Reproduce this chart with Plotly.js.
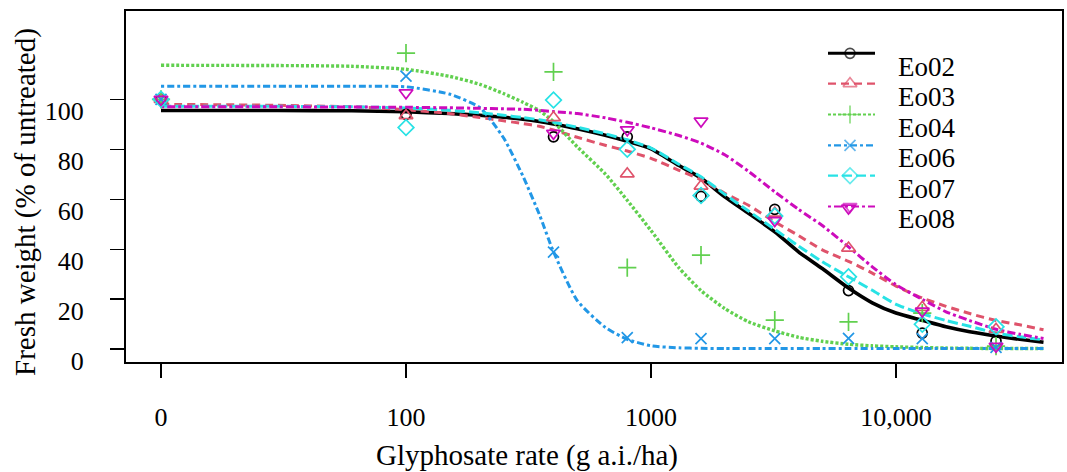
<!DOCTYPE html>
<html>
<head>
<meta charset="utf-8">
<script src="https://cdn.plot.ly/plotly-3.0.1.min.js"></script>
<style>html,body{margin:0;padding:0;background:#fff;}#chart{width:1067px;height:472px;}</style>
</head>
<body>
<div id="chart"></div>
<script>
// ---- data ----
const seriesNames = ["Eo02", "Eo03", "Eo04", "Eo06", "Eo07", "Eo08"];
const doses = [0, 100, 400, 800, 1600, 3200, 6400, 12800, 25600];
const obsEo02 = [100, 94.0, 85.0, 85.0, 61.2, 56.0, 23.5, 6.5, 3.3];
const obsEo03 = [100, 93.5, 92.7, 70.2, 65.3, 54.5, 40.5, 16.8, 8.0];
const obsEo04 = [100, 118.5, 111.0, 32.7, 37.7, 11.7, 11.0, 14.5, 1.3];
const obsEo06 = [100, 109.3, 38.9, 4.7, 4.3, 4.3, 4.4, 4.3, 0.8];
const obsEo07 = [100, 88.7, 99.7, 80.0, 61.5, 53.3, 29.0, 10.0, 9.0];
const obsEo08 = [100, 102.6, 86.4, 87.8, 91.3, 51.5, 56.5, 15.3, 1.2];

const curveDoses = [0, 30, 60, 100, 150, 200, 250, 300, 350, 400, 500, 650, 800, 1000, 1300, 1600,
  2000, 2500, 3200, 4000, 5000, 6400, 8000, 10000, 12800, 16000, 20000, 25600, 32000, 40000];
const fitEo02 = [95.5, 95.5, 95.4, 95.0, 94.3, 93.6, 92.8, 92.0, 91.1, 90.1, 88.2, 85.6, 83.2, 80.2, 73.5, 68.5,
  61.0, 54.4, 47.0, 39.0, 32.3, 24.5, 18.6, 14.5, 11.6, 9.0, 7.0, 5.3, 4.0, 2.8];
const fitEo03 = [98.0, 97.6, 97.0, 95.8, 94.3, 92.7, 91.4, 90.3, 89.2, 87.7, 84.8, 81.6, 79.3, 76.4, 71.6, 67.8,
  62.4, 57.6, 51.0, 45.5, 39.8, 35.2, 30.5, 25.3, 20.5, 17.2, 14.3, 11.5, 9.8, 7.8];
const fitEo04 = [113.6, 113.5, 113.2, 112.0, 109.2, 106.0, 102.3, 98.8, 95.5, 91.0, 81.0, 70.2, 59.6, 47.5, 32.6, 23.5,
  16.3, 11.0, 7.4, 4.8, 3.2, 2.0, 1.4, 1.0, 0.7, 0.5, 0.4, 0.3, 0.3, 0.3];
const fitEo06 = [105.2, 105.2, 105.2, 105.0, 102.1, 96.7, 84.6, 69.3, 54.0, 39.0, 19.5, 8.8, 4.0, 1.4, 0.6, 0.4,
  0.3, 0.3, 0.3, 0.3, 0.3, 0.3, 0.3, 0.3, 0.3, 0.3, 0.3, 0.3, 0.3, 0.3];
const fitEo07 = [97.2, 97.2, 97.0, 96.5, 95.6, 94.6, 93.6, 92.7, 91.8, 90.8, 88.8, 86.2, 83.8, 80.5, 74.0, 69.0,
  62.0, 55.3, 48.0, 41.3, 35.0, 29.0, 23.6, 18.0, 14.2, 11.5, 9.2, 6.5, 5.0, 3.8];
const fitEo08 = [97.0, 97.0, 96.9, 96.8, 96.6, 96.4, 96.2, 96.0, 95.6, 95.1, 94.3, 92.6, 90.8, 88.6, 85.5, 82.5,
  77.8, 71.2, 63.0, 56.0, 49.5, 41.0, 33.0, 25.8, 20.0, 15.0, 11.5, 8.0, 6.0, 4.3];

const xTickVals = [0, 100, 1000, 10000];
const xTickText = ["0", "100", "1000", "10,000"];
const yTickVals = [0, 20, 40, 60, 80, 100];

// ---- styles ----
const zeroPos = 10; // broken-axis position of dose 0
const toX = d => d === 0 ? zeroPos : d;
const FONT = "Liberation Serif, Times New Roman, serif";
const colors = ["#000000", "#DF536B", "#61D04F", "#2297E6", "#28E2E5", "#CD0BBC"];
const symbols = ["circle-open", "triangle-up-open", "cross-thin-open", "x-thin-open", "diamond-open", "triangle-down-open"];
const msizes = [10, 12, 13, 11, 12, 12];
const dashes = ["solid", "8px,5px", "3px,2px", "3px,3px,7px,3px", "10px,4px", "3px,3px,8px,3px"];
const lwidths = [3.6, 3, 3.4, 3, 3, 3];
const obs = [obsEo02, obsEo03, obsEo04, obsEo06, obsEo07, obsEo08];
const fits = [fitEo02, fitEo03, fitEo04, fitEo06, fitEo07, fitEo08];

const traces = [];
for (let i = 0; i < seriesNames.length; i++) {
  traces.push({
    type: "scatter", mode: "lines", name: seriesNames[i], showlegend: false,
    x: curveDoses.map(toX), y: fits[i],
    line: {color: colors[i], width: lwidths[i], dash: dashes[i], shape: "spline", smoothing: 0.6},
    hoverinfo: "skip"
  });
}
for (let i = 0; i < seriesNames.length; i++) {
  traces.push({
    type: "scatter", mode: "markers", name: seriesNames[i], showlegend: false,
    x: doses.map(toX), y: obs[i], cliponaxis: false,
    marker: {symbol: symbols[i], size: msizes[i], color: colors[i], line: {color: colors[i], width: 1.7}}
  });
}

// ---- custom legend (on an overlay axis in plot fractions) ----
const plotL = 126, plotR = 1062, plotT = 11, plotB = 362;
const fx = px => (px - plotL) / (plotR - plotL);
const fy = py => (plotB - py) / (plotB - plotT);
const legSymY = [53.3, 83.6, 114.5, 145.3, 175.7, 206.5];
const legTextY = [67, 97, 127.5, 158, 188.5, 218.5];
const annotations = [];
for (let i = 0; i < seriesNames.length; i++) {
  traces.push({
    type: "scatter", mode: "lines+markers", xaxis: "x2", yaxis: "y2", showlegend: false, hoverinfo: "skip",
    x: [fx(828), fx(850), fx(875)], y: [fy(legSymY[i]), fy(legSymY[i]), fy(legSymY[i])],
    line: {color: colors[i], width: i === 0 ? 3 : 2.2, dash: dashes[i]},
    marker: {symbol: symbols[i], size: [0, msizes[i], 0], color: colors[i], line: {color: colors[i], width: 1.7}}
  });
  annotations.push({
    xref: "paper", yref: "paper", x: fx(896), y: fy(legTextY[i]), xanchor: "left", yanchor: "middle",
    text: seriesNames[i], showarrow: false, font: {family: FONT, size: 27, color: "#000"}
  });
}
annotations.push({
  xref: "paper", yref: "paper", x: fx(527), y: fy(455), xanchor: "center", yanchor: "middle",
  text: "Glyphosate rate (g a.i./ha)", showarrow: false, font: {family: FONT, size: 29, color: "#000"}
});
annotations.push({
  xref: "paper", yref: "paper", x: fx(25), y: fy(202), xanchor: "center", yanchor: "middle", textangle: -90,
  text: "Fresh weight (% of untreated)", showarrow: false, font: {family: FONT, size: 29, color: "#000"}
});

const layout = {
  width: 1067, height: 472,
  margin: {l: plotL, r: 1067 - plotR, t: plotT, b: 472 - plotB},
  paper_bgcolor: "#fff", plot_bgcolor: "#fff",
  font: {family: FONT, color: "#000"},
  showlegend: false,
  xaxis: {
    type: "log", range: [1 - 35 / 245, 1 + 901 / 245],
    tickvals: xTickVals.map(toX), ticktext: xTickText,
    ticks: "outside", ticklen: 14, tickwidth: 1.6, tickcolor: "#000",
    showline: true, linecolor: "#000", linewidth: 2, mirror: true,
    showgrid: false, zeroline: false,
    tickfont: {family: FONT, size: 26, color: "#000"}, ticklabelstandoff: 17
  },
  yaxis: {
    range: [-5.08, 135.32], tickvals: yTickVals,
    ticks: "outside", ticklen: 14, tickwidth: 1.6, tickcolor: "#000",
    showline: true, linecolor: "#000", linewidth: 2, mirror: true,
    showgrid: false, zeroline: false,
    tickfont: {family: FONT, size: 26, color: "#000"}, ticklabelstandoff: 21, ticklabelshift: 12
  },
  xaxis2: {overlaying: "x", range: [0, 1], visible: false, fixedrange: true},
  yaxis2: {overlaying: "y", range: [0, 1], visible: false, fixedrange: true},
  annotations: annotations
};

Plotly.newPlot("chart", traces, layout, {staticPlot: true});
</script>
</body>
</html>
